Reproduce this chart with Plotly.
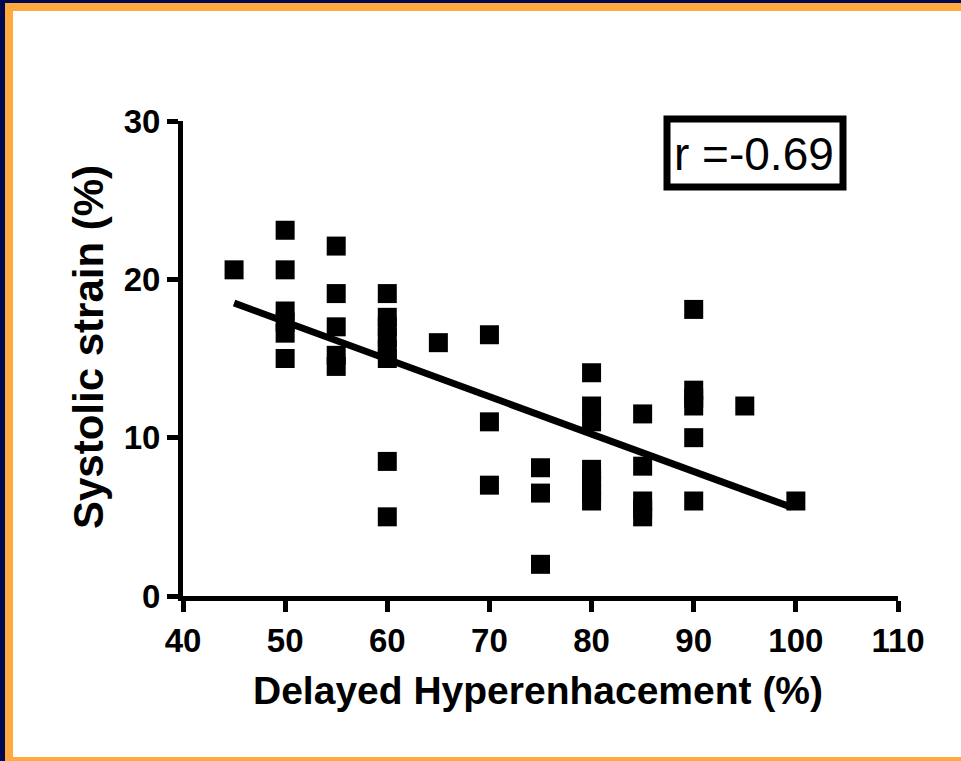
import plotly.graph_objects as go

# Data
dh = [45,
      50, 50, 50, 50, 50, 50,
      55, 55, 55, 55, 55,
      60, 60, 60, 60, 60, 60, 60, 60,
      65,
      70, 70, 70,
      75, 75, 75,
      80, 80, 80, 80, 80, 80, 80, 80,
      85, 85, 85, 85, 85,
      90, 90, 90, 90, 90, 90,
      95,
      100]
strain = [20.6,
          23.1, 20.6, 18.0, 17.3, 16.6, 15.0,
          22.1, 19.1, 17.0, 15.2, 14.5,
          19.1, 17.6, 17.0, 16.3, 15.6, 15.0, 8.5, 5.0,
          16.0,
          16.5, 11.0, 7.0,
          8.1, 6.5, 2.0,
          14.1, 12.0, 11.0, 8.0, 7.5, 7.0, 6.5, 6.0,
          11.5, 8.2, 6.0, 5.5, 5.0,
          18.1, 13.0, 12.5, 12.0, 10.0, 6.0,
          12.0,
          6.0]
fit_x = [45, 99.6]
fit_y = [18.5, 5.6]
x_ticks = [40, 50, 60, 70, 80, 90, 100, 110]
y_ticks = [0, 10, 20, 30]
r_label = "r =-0.69"

W, H = 961, 761
L, R, T, B = 183, 63, 121, 165
pw, ph = W - L - R, H - T - B

def px(x):
    return (x - L) / pw

def py(y):
    return (H - B - y) / ph

fig = go.Figure()
fig.add_trace(go.Scatter(x=fit_x, y=fit_y, mode="lines",
                         line=dict(color="black", width=7), hoverinfo="skip"))
fig.add_trace(go.Scatter(x=dh, y=strain, mode="markers",
                         marker=dict(symbol="square", size=19, color="black",
                                     line=dict(width=0))))

tickfont = dict(family="Liberation Sans", size=33, color="black", weight="bold")
fig.update_xaxes(range=[40, 110], tickvals=x_ticks, ticks="outside", ticklen=11,
                 tickwidth=5, tickcolor="black", showline=True, linewidth=5,
                 linecolor="black", showgrid=False, zeroline=False,
                 tickfont=tickfont)
fig.update_yaxes(range=[0, 30], tickvals=y_ticks, ticks="outside", ticklen=11,
                 tickwidth=5, tickcolor="black", showline=True, linewidth=5,
                 linecolor="black", showgrid=False, zeroline=False,
                 tickfont=tickfont)

shapes = [
    # navy strips
    dict(type="rect", xref="paper", yref="paper", x0=px(0), x1=px(5), y0=py(H), y1=py(0),
         fillcolor="#000850", line=dict(width=0), layer="above"),
    dict(type="rect", xref="paper", yref="paper", x0=px(0), x1=px(W), y0=py(3), y1=py(0),
         fillcolor="#000850", line=dict(width=0), layer="above"),
    # orange strips
    dict(type="rect", xref="paper", yref="paper", x0=px(5), x1=px(13), y0=py(H), y1=py(3),
         fillcolor="#FFA93F", line=dict(width=0), layer="above"),
    dict(type="rect", xref="paper", yref="paper", x0=px(5), x1=px(W), y0=py(11), y1=py(3),
         fillcolor="#FFA93F", line=dict(width=0), layer="above"),
    dict(type="rect", xref="paper", yref="paper", x0=px(5), x1=px(W), y0=py(H), y1=py(757),
         fillcolor="#FFA93F", line=dict(width=0), layer="above"),
    # r box
    dict(type="rect", xref="paper", yref="paper", x0=px(667), x1=px(843), y0=py(187), y1=py(119),
         fillcolor="white", line=dict(color="black", width=7)),
]

annotations = [
    dict(text=r_label, xref="paper", yref="paper", x=px(754), y=py(154),
         showarrow=False, font=dict(family="Liberation Sans", size=46, color="black"),
         xanchor="center", yanchor="middle"),
    dict(text="Delayed Hyperenhacement (%)", xref="paper", yref="paper", x=px(538), y=py(690),
         showarrow=False, font=dict(family="Liberation Sans", size=39, color="black", weight="bold"),
         xanchor="center", yanchor="middle"),
    dict(text="Systolic strain (%)", xref="paper", yref="paper", x=px(88), y=py(347),
         showarrow=False, textangle=-90,
         font=dict(family="Liberation Sans", size=42, color="black", weight="bold"),
         xanchor="center", yanchor="middle"),
]

fig.update_layout(width=W, height=H, margin=dict(l=L, r=R, t=T, b=B, autoexpand=False),
                  paper_bgcolor="white", plot_bgcolor="white", showlegend=False,
                  shapes=shapes, annotations=annotations)

fig.write_html("out.html", config={"displayModeBar": False},
               post_script="document.body.style.margin='0';document.body.style.overflow='hidden';")
